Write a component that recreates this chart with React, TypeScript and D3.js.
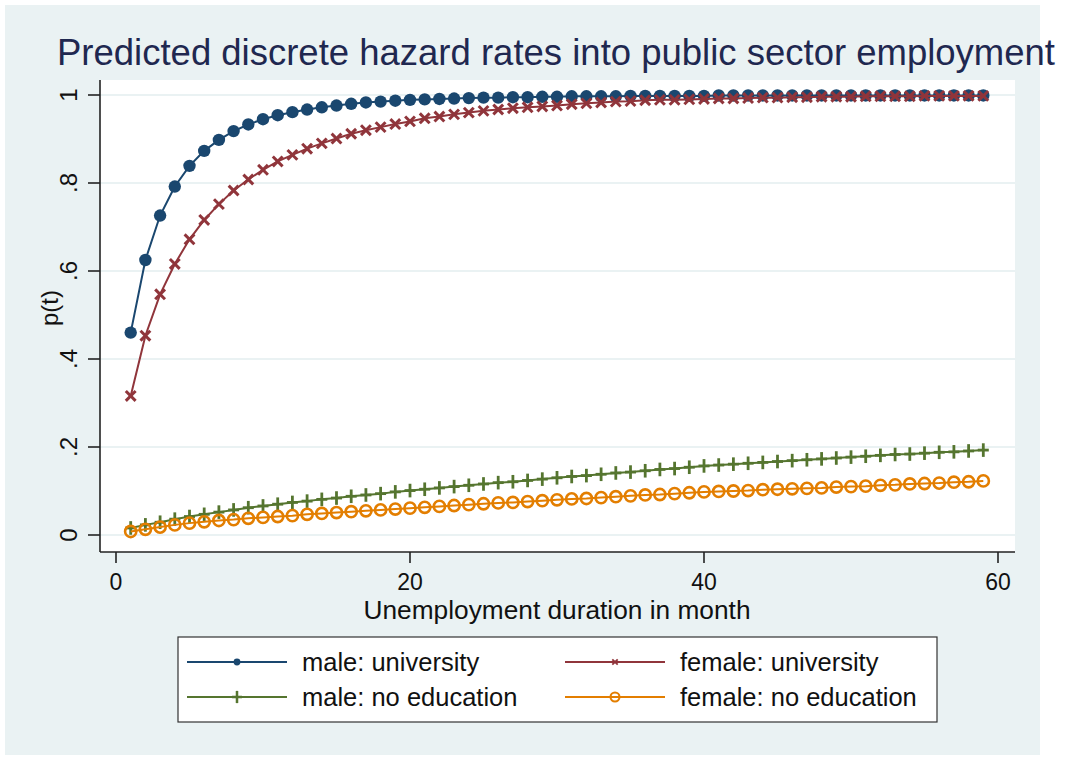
import React from "react";
import * as d3 from "d3";

// Months of unemployment duration (1..59)
const months: number[] = [
  1, 2, 3, 4, 5, 6, 7, 8, 9, 10, 11, 12, 13, 14, 15, 16, 17, 18, 19, 20,
  21, 22, 23, 24, 25, 26, 27, 28, 29, 30, 31, 32, 33, 34, 35, 36, 37, 38, 39, 40,
  41, 42, 43, 44, 45, 46, 47, 48, 49, 50, 51, 52, 53, 54, 55, 56, 57, 58, 59,
];

const maleUniversity: number[] = [
  0.46, 0.625, 0.726, 0.792, 0.839, 0.873, 0.898, 0.918, 0.933, 0.945,
  0.954, 0.961, 0.967, 0.972, 0.976, 0.98, 0.983, 0.985, 0.987, 0.989,
  0.99, 0.991, 0.992, 0.993, 0.994, 0.994, 0.995, 0.995, 0.996, 0.996,
  0.997, 0.997, 0.997, 0.997, 0.998, 0.998, 0.998, 0.998, 0.998, 0.998,
  0.999, 0.999, 0.999, 0.999, 0.999, 0.999, 0.999, 0.999, 0.999, 0.999,
  0.999, 0.999, 0.999, 0.999, 0.999, 0.999, 0.999, 0.999, 0.999,
];

const femaleUniversity: number[] = [
  0.316, 0.453, 0.547, 0.616, 0.672, 0.716, 0.752, 0.783, 0.808, 0.83,
  0.849, 0.864, 0.878, 0.89, 0.901, 0.912, 0.92, 0.927, 0.934, 0.94,
  0.947, 0.951, 0.956, 0.96, 0.964, 0.967, 0.97, 0.972, 0.974, 0.976,
  0.979, 0.981, 0.983, 0.985, 0.986, 0.988, 0.989, 0.989, 0.99, 0.991,
  0.992, 0.992, 0.993, 0.994, 0.994, 0.995, 0.995, 0.996, 0.996, 0.996,
  0.997, 0.997, 0.997, 0.997, 0.998, 0.998, 0.998, 0.998, 0.998,
];

const maleNoEducation: number[] = [
  0.016, 0.023, 0.029, 0.036, 0.042, 0.047, 0.052, 0.057, 0.062, 0.066,
  0.07, 0.074, 0.077, 0.081, 0.084, 0.088, 0.091, 0.094, 0.098, 0.101,
  0.104, 0.107, 0.11, 0.113, 0.116, 0.119, 0.121, 0.124, 0.127, 0.13,
  0.133, 0.135, 0.138, 0.141, 0.143, 0.146, 0.149, 0.151, 0.154, 0.157,
  0.159, 0.161, 0.163, 0.165, 0.167, 0.169, 0.171, 0.173, 0.175, 0.177,
  0.179, 0.181, 0.183, 0.184, 0.186, 0.188, 0.189, 0.191, 0.193,
];

const femaleNoEducation: number[] = [
  0.008, 0.013, 0.018, 0.023, 0.027, 0.03, 0.033, 0.035, 0.038, 0.04,
  0.042, 0.044, 0.047, 0.049, 0.051, 0.053, 0.055, 0.057, 0.059, 0.061,
  0.063, 0.065, 0.067, 0.069, 0.071, 0.073, 0.074, 0.076, 0.078, 0.08,
  0.082, 0.083, 0.085, 0.087, 0.089, 0.091, 0.092, 0.094, 0.096, 0.098,
  0.099, 0.1, 0.101, 0.103, 0.104, 0.105, 0.106, 0.107, 0.109, 0.11,
  0.111, 0.113, 0.114, 0.116, 0.117, 0.118, 0.12, 0.121, 0.123,
];

const xTicks: number[] = [0, 20, 40, 60];
const yTicks: number[] = [0, 0.2, 0.4, 0.6, 0.8, 1];
const yTickLabels: string[] = ["0", ".2", ".4", ".6", ".8", "1"];

const seriesNames: string[] = [
  "male: university",
  "female: university",
  "male: no education",
  "female: no education",
];
const seriesColors: string[] = ["#1a476f", "#90353b", "#55752f", "#e37e00"];
const seriesMarkers: string[] = ["dot", "x", "plus", "ring"];
const seriesValues: number[][] = [
  maleUniversity,
  femaleUniversity,
  maleNoEducation,
  femaleNoEducation,
];

const titleText = "Predicted discrete hazard rates into public sector employment";
const xTitle = "Unemployment duration in month";
const yTitle = "p(t)";

const FONT = "'Liberation Sans', Arial, Helvetica, sans-serif";
const BG = "#eaf2f3";

const W = 1065;
const H = 757;
const plot = { left: 100, right: 1015, top: 80, bottom: 552 };

function Marker({ kind, x, y, color, s = 1 }: { kind: string; x: number; y: number; color: string; s?: number }) {
  if (kind === "dot") return <circle cx={x} cy={y} r={6.2 * s} fill={color} />;
  if (kind === "ring")
    return <circle cx={x} cy={y} r={5.6 * s} fill="none" stroke={color} strokeWidth={2.6 * Math.max(s, 0.7)} />;
  if (kind === "x") {
    const a = 4.9 * s;
    return (
      <g stroke={color} strokeWidth={3 * Math.max(s, 0.6)} strokeLinecap="butt">
        <line x1={x - a} y1={y - a} x2={x + a} y2={y + a} />
        <line x1={x - a} y1={y + a} x2={x + a} y2={y - a} />
      </g>
    );
  }
  // plus
  const v = 6.8 * s;
  const h = 5.5 * s;
  return (
    <g stroke={color} strokeWidth={2.8 * Math.max(s, 0.7)}>
      <line x1={x} y1={y - v} x2={x} y2={y + v} />
      <line x1={x - h} y1={y} x2={x + h} y2={y} />
    </g>
  );
}

function SText({ x, y, size, children, anchor = "start", fill = "#111", len }: any) {
  return (
    <text
      x={x}
      y={y}
      fontFamily={FONT}
      fontSize={size}
      textAnchor={anchor}
      fill={fill}
      textLength={len}
      lengthAdjust={len ? "spacingAndGlyphs" : undefined}
    >
      {children}
    </text>
  );
}

export default function App() {
  const x = d3.scaleLinear().domain([0, 60]).range([116, 998]);
  const y = d3.scaleLinear().domain([0, 1]).range([535, 95]);

  const line = d3
    .line<number>()
    .x((_, i) => x(months[i]))
    .y((d) => y(d));

  const legend = { x0: 178, y0: 637, x1: 937, y1: 722 };
  const legendCols = [187, 565];
  const legendRows = [662, 697];

  return (
    <div style={{ position: "absolute", left: 0, top: 0 }}>
      <svg width={W} height={H} viewBox={`0 0 ${W} ${H}`} style={{ display: "block" }}>
        <rect x={0} y={0} width={W} height={H} fill="#ffffff" />
        <rect x={5} y={5} width={1035} height={750} fill={BG} />

        {/* title */}
        <SText x={57} y={65} size={36} fill="#1f2850" len={998}>
          {titleText}
        </SText>

        {/* plot region */}
        <rect
          x={plot.left}
          y={plot.top}
          width={plot.right - plot.left}
          height={plot.bottom - plot.top}
          fill="#ffffff"
        />
        {yTicks.map((t) => (
          <line
            key={`g${t}`}
            x1={plot.left}
            x2={plot.right}
            y1={y(t)}
            y2={y(t)}
            stroke={BG}
            strokeWidth={2}
          />
        ))}

        {/* series */}
        {seriesValues.map((vals, si) => (
          <g key={`s${si}`}>
            <path d={line(vals) || ""} fill="none" stroke={seriesColors[si]} strokeWidth={2} />
            {vals.map((v, i) => (
              <Marker
                key={i}
                kind={seriesMarkers[si]}
                x={x(months[i])}
                y={y(v)}
                color={seriesColors[si]}
              />
            ))}
          </g>
        ))}

        {/* axes */}
        <line x1={plot.left} x2={plot.left} y1={plot.top} y2={plot.bottom} stroke="#222" strokeWidth={1.6} />
        <line x1={plot.left} x2={plot.right} y1={plot.bottom} y2={plot.bottom} stroke="#222" strokeWidth={1.6} />
        {yTicks.map((t, i) => (
          <g key={`yt${t}`}>
            <line x1={88} x2={plot.left} y1={y(t)} y2={y(t)} stroke="#222" strokeWidth={1.6} />
            <text
              transform={`translate(77,${y(t)}) rotate(-90)`}
              fontFamily={FONT}
              fontSize={24}
              textAnchor="middle"
              fill="#111"
            >
              {yTickLabels[i]}
            </text>
          </g>
        ))}
        {xTicks.map((t) => (
          <g key={`xt${t}`}>
            <line x1={x(t)} x2={x(t)} y1={plot.bottom} y2={563} stroke="#222" strokeWidth={1.6} />
            <SText x={x(t)} y={590} size={23} anchor="middle">
              {String(t)}
            </SText>
          </g>
        ))}
        <SText x={557} y={619} size={25} anchor="middle" len={387}>
          {xTitle}
        </SText>
        <text
          transform={`translate(58,308) rotate(-90)`}
          fontFamily={FONT}
          fontSize={24}
          textAnchor="middle"
          fill="#111"
        >
          {yTitle}
        </text>

        {/* legend */}
        <rect
          x={legend.x0}
          y={legend.y0}
          width={legend.x1 - legend.x0}
          height={legend.y1 - legend.y0}
          fill="#ffffff"
          stroke="#333"
          strokeWidth={1.2}
        />
        {seriesNames.map((name, si) => {
          const cx = legendCols[si % 2];
          const cy = legendRows[Math.floor(si / 2)];
          const kind = seriesMarkers[si];
          const s = kind === "plus" ? 0.9 : kind === "ring" ? 0.8 : 0.55;
          return (
            <g key={`l${si}`}>
              <line x1={cx} x2={cx + 100} y1={cy} y2={cy} stroke={seriesColors[si]} strokeWidth={2} />
              <Marker kind={kind} x={cx + 50} y={cy} color={seriesColors[si]} s={s} />
              <SText x={cx + 115} y={cy + 9} size={25.5}>
                {name}
              </SText>
            </g>
          );
        })}
      </svg>
    </div>
  );
}
